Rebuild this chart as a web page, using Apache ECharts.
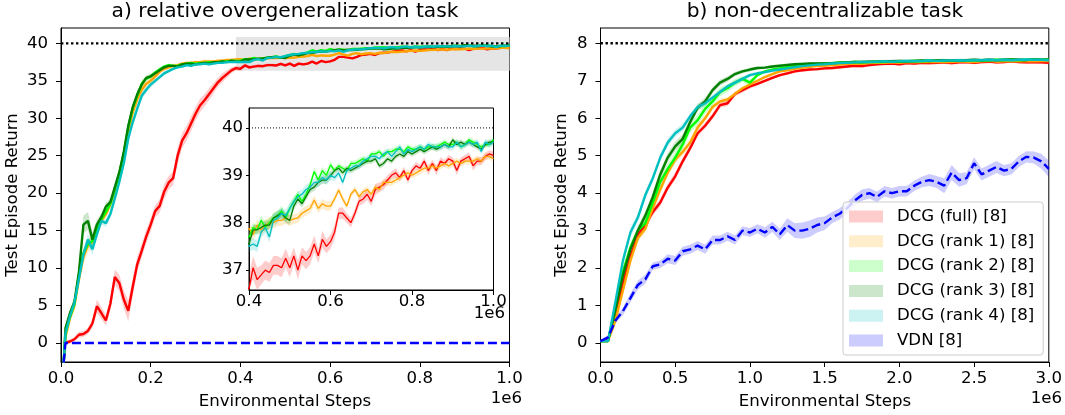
<!DOCTYPE html>
<html>
<head>
<meta charset="utf-8">
<script src="https://cdn.jsdelivr.net/npm/echarts@6.0.0/dist/echarts.min.js"></script>
<style>
  html, body { margin: 0; padding: 0; background: #fff; }
  #chart { width: 1065px; height: 415px; }
</style>
</head>
<body>
<div id="chart"></div>
<script>
// ---- data: a) relative overgeneralization task (x in 1e6 steps) ----
const stepsA = [0.006];
for (let i = 1; i <= 100; i++) stepsA.push(i / 100);

const fullA = [0.0,
  0.0, 0.2, 0.5, 1.1, 1.2, 1.6, 2.6, 4.9, 4.0, 3.0,
  5.2, 8.8, 8.0, 5.8, 4.3, 7.5, 10.5, 12.3, 14.2, 15.8,
  17.6, 18.3, 20.2, 21.4, 22.0, 25.0, 27.0, 28.0, 29.3, 30.6,
  31.7, 32.4, 33.2, 34.0, 34.8, 35.4, 35.9, 36.4, 36.7, 36.6,
  37.05, 36.8, 36.9, 37.0, 36.95, 37.1, 37.1, 37.05, 37.25, 37.05,
  37.3, 37.0, 37.3, 37.2, 37.3, 37.55, 37.3, 37.65, 37.5, 37.6,
  37.8, 38.2, 38.2, 38.1, 38.0, 38.2, 38.45, 38.5, 38.6, 38.45,
  38.7, 38.75, 38.8, 38.9, 39.0, 39.05, 38.95, 39.1, 38.9, 39.1,
  39.2, 39.15, 39.3, 39.1, 39.25, 39.1, 39.3, 39.25, 39.35, 39.3,
  39.1, 39.3, 39.35, 39.4, 39.2, 39.3, 39.3, 39.4, 39.45, 39.42];
const rank1A = [-2.6,
  0.8, 3.3, 5.0, 8.5, 11.5, 13.0, 13.5, 14.8, 16.3, 17.2,
  18.5, 20.3, 22.3, 25.0, 28.2, 30.8, 32.5, 33.8, 34.6, 35.0,
  35.6, 36.2, 36.6, 36.8, 37.0, 37.1, 37.3, 37.4, 37.4, 37.5,
  37.5, 37.6, 37.6, 37.6, 37.7, 37.7, 37.8, 37.8, 37.85, 37.88,
  37.75, 37.95, 37.85, 37.95, 38.0, 38.0, 38.05, 38.05, 38.1, 38.05,
  38.08, 38.1, 38.2, 38.25, 38.3, 38.48, 38.3, 38.4, 38.35, 38.35,
  38.5, 38.69, 38.5, 38.35, 38.6, 38.7, 38.55, 38.65, 38.7, 38.6,
  38.75, 38.7, 38.85, 38.85, 38.85, 38.9, 38.95, 39.0, 39.05, 39.0,
  39.05, 39.1, 39.15, 39.15, 39.2, 39.15, 39.2, 39.25, 39.2, 39.25,
  39.3, 39.25, 39.3, 39.3, 39.3, 39.35, 39.3, 39.4, 39.4, 39.35];
const rank2A = [-2.6,
  1.2, 3.5, 5.2, 9.0, 12.0, 13.2, 13.6, 15.2, 16.5, 17.5,
  18.6, 20.5, 22.6, 25.4, 28.8, 31.4, 33.0, 34.6, 35.3, 35.6,
  36.1, 36.5, 36.9, 37.1, 37.0, 37.0, 37.2, 37.3, 37.4, 37.3,
  37.4, 37.4, 37.5, 37.4, 37.5, 37.6, 37.6, 37.7, 37.65, 37.7,
  37.9, 37.85, 38.05, 37.9, 38.0, 38.1, 38.15, 38.25, 38.1, 38.3,
  38.45, 38.6, 38.45, 38.6, 38.8, 39.08, 38.9, 39.1, 39.0, 39.22,
  39.1, 39.2, 39.15, 39.1, 39.25, 39.25, 39.3, 39.35, 39.3, 39.45,
  39.45, 39.5, 39.4, 39.5, 39.5, 39.55, 39.55, 39.5, 39.6, 39.55,
  39.55, 39.6, 39.55, 39.6, 39.6, 39.6, 39.65, 39.7, 39.65, 39.65,
  39.7, 39.6, 39.65, 39.75, 39.7, 39.65, 39.6, 39.65, 39.65, 39.75];
const rank3A = [-2.6,
  2.0, 4.0, 5.5, 9.5, 15.8, 16.3, 13.8, 15.8, 16.8, 18.2,
  18.8, 20.8, 22.8, 25.5, 29.0, 31.5, 33.2, 34.5, 35.4, 35.6,
  36.0, 36.4, 36.8, 37.0, 37.0, 36.9, 37.2, 37.3, 37.3, 37.2,
  37.3, 37.4, 37.3, 37.5, 37.5, 37.6, 37.5, 37.7, 37.6, 37.55,
  37.85, 37.85, 37.9, 37.95, 37.95, 38.1, 38.15, 38.2, 38.1, 38.05,
  38.35, 38.5, 38.4, 38.55, 38.7, 38.75, 38.85, 38.9, 38.9, 39.0,
  39.1, 39.15, 39.05, 39.15, 39.1, 39.15, 39.2, 39.25, 39.3, 39.3,
  39.35, 39.2, 39.25, 39.35, 39.3, 39.4, 39.45, 39.4, 39.5, 39.45,
  39.5, 39.55, 39.5, 39.55, 39.6, 39.55, 39.6, 39.65, 39.6, 39.75,
  39.65, 39.7, 39.65, 39.7, 39.65, 39.6, 39.55, 39.65, 39.7, 39.7];
const rank4A = [-2.6,
  1.3, 3.6, 5.4, 8.6, 11.8, 13.8, 12.5, 14.5, 16.3, 16.0,
  17.2, 19.3, 21.5, 24.0, 27.3, 29.5, 31.3, 33.0, 33.8, 34.5,
  35.0, 35.5, 36.0, 36.3, 36.6, 36.8, 36.9, 37.1, 37.0, 37.2,
  37.2, 37.3, 37.2, 37.3, 37.4, 37.4, 37.5, 37.5, 37.55, 37.5,
  37.55, 37.5, 37.8, 37.9, 37.7, 38.05, 38.1, 38.2, 38.15, 38.3,
  38.45, 38.55, 38.6, 38.7, 38.75, 38.85, 38.85, 38.95, 38.9, 39.0,
  38.95, 39.05, 38.85, 39.1, 39.15, 39.2, 39.2, 39.3, 39.35, 39.4,
  39.4, 39.35, 39.45, 39.5, 39.4, 39.5, 39.6, 39.45, 39.55, 39.5,
  39.55, 39.6, 39.55, 39.65, 39.6, 39.6, 39.6, 39.65, 39.6, 39.6,
  39.7, 39.6, 39.65, 39.7, 39.65, 39.7, 39.5, 39.7, 39.65, 39.7];
const vdnStepsA = [0.006, 0.01, 1.0];
const vdnA = [-2.6, 0.0, 0.0];

// half-widths of the shaded bands
const fullSdA = [0.2,
  0.2, 0.3, 0.3, 0.4, 0.4, 0.4, 0.6, 0.9, 0.8, 0.7,
  0.9, 1.0, 1.1, 1.2, 1.4, 1.2, 1.0, 0.9, 0.9, 0.9,
  0.8, 0.9, 1.0, 0.9, 0.9, 1.1, 1.0, 1.0, 1.0, 0.9,
  0.9, 0.8, 0.8, 0.7, 0.6, 0.6, 0.5, 0.4, 0.3, 0.3,
  0.25, 0.25, 0.2, 0.2, 0.2, 0.2, 0.2, 0.2, 0.2, 0.2,
  0.18, 0.2, 0.18, 0.18, 0.18, 0.18, 0.15, 0.18, 0.15, 0.15,
  0.15, 0.12, 0.12, 0.1, 0.1, 0.1, 0.1, 0.1, 0.12, 0.1,
  0.12, 0.1, 0.1, 0.1, 0.08, 0.1, 0.08, 0.08, 0.08, 0.08,
  0.08, 0.08, 0.08, 0.1, 0.08, 0.1, 0.08, 0.08, 0.08, 0.08,
  0.1, 0.08, 0.08, 0.08, 0.1, 0.08, 0.08, 0.08, 0.08, 0.08];
const rank1SdA = [0.3,
  0.4, 0.5, 0.6, 0.8, 1.0, 0.9, 0.8, 0.6, 0.5, 0.5,
  0.5, 0.5, 0.5, 0.6, 0.6, 0.6, 0.5, 0.5, 0.5, 0.4,
  0.4, 0.3, 0.3, 0.3, 0.3, 0.2, 0.2, 0.2, 0.2, 0.2,
  0.2, 0.2, 0.2, 0.15, 0.15, 0.15, 0.15, 0.15, 0.15, 0.12,
  0.12, 0.12, 0.12, 0.12, 0.12, 0.12, 0.12, 0.12, 0.12, 0.12,
  0.1, 0.1, 0.1, 0.1, 0.1, 0.1, 0.1, 0.1, 0.1, 0.1,
  0.07, 0.07, 0.07, 0.07, 0.07, 0.07, 0.07, 0.07, 0.07, 0.07,
  0.07, 0.07, 0.07, 0.07, 0.07, 0.07, 0.07, 0.07, 0.07, 0.07,
  0.07, 0.07, 0.07, 0.07, 0.07, 0.07, 0.07, 0.07, 0.07, 0.07,
  0.07, 0.07, 0.07, 0.07, 0.07, 0.07, 0.07, 0.07, 0.07, 0.07];
const rank2SdA = [0.3,
  0.4, 0.5, 0.6, 0.7, 0.6, 0.6, 0.6, 0.5, 0.5, 0.5,
  0.5, 0.5, 0.6, 0.6, 0.6, 0.5, 0.4, 0.4, 0.3, 0.3,
  0.3, 0.3, 0.2, 0.2, 0.2, 0.15, 0.15, 0.15, 0.15, 0.15,
  0.15, 0.15, 0.15, 0.12, 0.12, 0.12, 0.12, 0.12, 0.12, 0.1,
  0.1, 0.1, 0.1, 0.1, 0.1, 0.1, 0.1, 0.1, 0.1, 0.1,
  0.08, 0.08, 0.08, 0.08, 0.08, 0.08, 0.08, 0.08, 0.08, 0.08,
  0.06, 0.06, 0.06, 0.06, 0.06, 0.06, 0.06, 0.06, 0.06, 0.06,
  0.06, 0.06, 0.06, 0.06, 0.06, 0.06, 0.06, 0.06, 0.06, 0.06,
  0.06, 0.06, 0.06, 0.06, 0.06, 0.06, 0.06, 0.06, 0.06, 0.06,
  0.06, 0.06, 0.06, 0.06, 0.06, 0.06, 0.06, 0.06, 0.06, 0.06];
const rank3SdA = [0.3,
  0.4, 0.5, 0.6, 0.9, 1.2, 1.2, 1.0, 0.7, 0.5, 0.5,
  0.5, 0.5, 0.5, 0.6, 0.6, 0.5, 0.4, 0.4, 0.3, 0.3,
  0.3, 0.2, 0.2, 0.2, 0.2, 0.15, 0.15, 0.15, 0.15, 0.15,
  0.15, 0.15, 0.15, 0.12, 0.12, 0.12, 0.12, 0.12, 0.12, 0.1,
  0.1, 0.1, 0.1, 0.1, 0.1, 0.1, 0.1, 0.1, 0.1, 0.1,
  0.08, 0.08, 0.08, 0.08, 0.08, 0.08, 0.08, 0.08, 0.08, 0.08,
  0.06, 0.06, 0.06, 0.06, 0.06, 0.06, 0.06, 0.06, 0.06, 0.06,
  0.06, 0.06, 0.06, 0.06, 0.06, 0.06, 0.06, 0.06, 0.06, 0.06,
  0.06, 0.06, 0.06, 0.06, 0.06, 0.06, 0.06, 0.06, 0.06, 0.06,
  0.06, 0.06, 0.06, 0.06, 0.06, 0.06, 0.06, 0.06, 0.06, 0.06];
const rank4SdA = [0.3,
  0.4, 0.5, 0.6, 0.7, 0.8, 0.8, 0.7, 0.6, 0.5, 0.5,
  0.5, 0.6, 0.6, 0.6, 0.7, 0.6, 0.5, 0.5, 0.4, 0.4,
  0.3, 0.3, 0.3, 0.2, 0.2, 0.15, 0.15, 0.15, 0.15, 0.15,
  0.15, 0.15, 0.15, 0.12, 0.12, 0.12, 0.12, 0.12, 0.12, 0.12,
  0.12, 0.12, 0.12, 0.12, 0.12, 0.12, 0.12, 0.12, 0.12, 0.12,
  0.1, 0.1, 0.1, 0.1, 0.1, 0.1, 0.1, 0.1, 0.1, 0.1,
  0.07, 0.07, 0.07, 0.07, 0.07, 0.07, 0.07, 0.07, 0.07, 0.07,
  0.07, 0.07, 0.07, 0.07, 0.07, 0.07, 0.07, 0.07, 0.07, 0.07,
  0.07, 0.07, 0.07, 0.07, 0.07, 0.07, 0.07, 0.07, 0.07, 0.07,
  0.07, 0.07, 0.07, 0.07, 0.07, 0.07, 0.07, 0.07, 0.07, 0.07];

// ---- data: b) non-decentralizable task ----
const stepsB = [];
for (let i = 0; i <= 60; i++) stepsB.push(i * 0.05);

const fullB = [0.05, 0.1, 0.75, 1.6, 2.3, 2.9, 3.15, 3.5, 3.75, 4.15,
  4.45, 4.85, 5.2, 5.6, 5.8, 6.05, 6.35, 6.4, 6.65, 6.75,
  6.85, 6.92, 7.0, 7.08, 7.15, 7.2, 7.25, 7.28, 7.3, 7.31,
  7.33, 7.34, 7.36, 7.38, 7.4, 7.39, 7.42, 7.44, 7.45, 7.46,
  7.44, 7.47, 7.46, 7.48, 7.47, 7.48, 7.49, 7.47, 7.49, 7.5,
  7.48, 7.5, 7.51, 7.49, 7.5, 7.52, 7.5, 7.49, 7.5, 7.49, 7.48];
const rank1B = [0.05, 0.05, 0.6, 1.4, 2.2, 2.8, 3.05, 3.6, 4.1, 4.55,
  4.9, 5.1, 5.35, 5.75, 6.0, 6.3, 6.45, 6.5, 6.65, 6.8,
  6.9, 7.0, 7.1, 7.18, 7.25, 7.28, 7.32, 7.35, 7.37, 7.4,
  7.4, 7.42, 7.43, 7.45, 7.46, 7.45, 7.47, 7.48, 7.48, 7.49,
  7.48, 7.5, 7.49, 7.5, 7.51, 7.5, 7.51, 7.5, 7.52, 7.51,
  7.5, 7.52, 7.53, 7.51, 7.52, 7.53, 7.52, 7.53, 7.52, 7.53, 7.53];
const rank2B = [0.05, 0.05, 0.9, 1.9, 2.55, 3.0, 3.2, 3.75, 4.3, 4.65,
  4.95, 5.3, 5.75, 5.95, 6.25, 6.45, 6.7, 6.8, 6.95, 7.05,
  6.95, 7.15, 7.25, 7.3, 7.33, 7.36, 7.4, 7.42, 7.43, 7.45,
  7.46, 7.47, 7.48, 7.49, 7.5, 7.49, 7.5, 7.51, 7.5, 7.52,
  7.51, 7.52, 7.53, 7.52, 7.53, 7.54, 7.53, 7.54, 7.53, 7.55,
  7.54, 7.55, 7.54, 7.56, 7.55, 7.56, 7.55, 7.56, 7.57, 7.56, 7.57];
const rank3B = [0.05, 0.05, 0.9, 1.8, 2.5, 3.0, 3.4, 3.9, 4.5, 4.95,
  5.25, 5.45, 5.9, 6.28, 6.45, 6.75, 6.95, 7.05, 7.18, 7.25,
  7.3, 7.34, 7.35, 7.38, 7.4, 7.42, 7.44, 7.45, 7.46, 7.46,
  7.46, 7.47, 7.48, 7.49, 7.5, 7.5, 7.51, 7.51, 7.52, 7.52,
  7.53, 7.52, 7.53, 7.54, 7.53, 7.54, 7.55, 7.54, 7.55, 7.55,
  7.56, 7.55, 7.56, 7.55, 7.56, 7.57, 7.56, 7.55, 7.57, 7.56, 7.56];
const rank4B = [0.05, 0.05, 1.1, 2.2, 2.95, 3.35, 3.95, 4.4, 4.95, 5.35,
  5.6, 5.75, 6.05, 6.3, 6.4, 6.55, 6.7, 6.85, 6.95, 7.05,
  7.15, 7.2, 7.23, 7.27, 7.3, 7.33, 7.36, 7.39, 7.41, 7.43,
  7.44, 7.46, 7.47, 7.48, 7.49, 7.5, 7.5, 7.51, 7.52, 7.51,
  7.52, 7.53, 7.52, 7.53, 7.54, 7.53, 7.54, 7.54, 7.55, 7.54,
  7.55, 7.55, 7.56, 7.55, 7.56, 7.55, 7.56, 7.57, 7.56, 7.56, 7.55];
const vdnB = [0.05, 0.15, 0.6, 0.85, 1.2, 1.55, 1.7, 2.05, 2.1, 2.25,
  2.2, 2.45, 2.5, 2.6, 2.5, 2.75, 2.75, 2.85, 2.75, 3.0,
  2.95, 3.05, 2.95, 3.1, 2.9, 3.15, 3.0, 3.0, 3.05, 3.15,
  3.2, 3.35, 3.45, 3.6, 3.8, 3.95, 4.0, 3.9, 4.05, 4.0,
  4.05, 4.05, 4.2, 4.3, 4.35, 4.3, 4.2, 4.55, 4.35, 4.4,
  4.8, 4.5, 4.6, 4.7, 4.6, 4.65, 4.85, 4.97, 4.95, 4.85, 4.65];

const fullSdB = [0.02, 0.03, 0.08, 0.1, 0.1, 0.1, 0.1, 0.1, 0.1, 0.1,
  0.1, 0.1, 0.08, 0.08, 0.08, 0.08, 0.07, 0.07, 0.06, 0.06,
  0.06, 0.04, 0.04, 0.04, 0.04, 0.04, 0.04, 0.04, 0.04, 0.04,
  0.04, 0.04, 0.04, 0.04, 0.04, 0.04, 0.04, 0.04, 0.04, 0.04,
  0.04, 0.04, 0.04, 0.04, 0.04, 0.04, 0.04, 0.04, 0.04, 0.04,
  0.04, 0.04, 0.04, 0.04, 0.04, 0.04, 0.04, 0.04, 0.04, 0.04, 0.04];
const rank1SdB = [0.02, 0.03, 0.1, 0.12, 0.12, 0.1, 0.1, 0.1, 0.1, 0.1,
  0.1, 0.1, 0.1, 0.08, 0.08, 0.07, 0.07, 0.06, 0.06, 0.05,
  0.05, 0.04, 0.04, 0.04, 0.04, 0.04, 0.04, 0.04, 0.04, 0.04,
  0.04, 0.04, 0.04, 0.04, 0.04, 0.04, 0.04, 0.04, 0.04, 0.04,
  0.04, 0.04, 0.04, 0.04, 0.04, 0.04, 0.04, 0.04, 0.04, 0.04,
  0.04, 0.04, 0.04, 0.04, 0.04, 0.04, 0.04, 0.04, 0.04, 0.04, 0.04];
const rank2SdB = [0.02, 0.03, 0.1, 0.12, 0.12, 0.1, 0.12, 0.14, 0.15, 0.15,
  0.15, 0.15, 0.14, 0.14, 0.13, 0.12, 0.12, 0.1, 0.1, 0.08,
  0.08, 0.04, 0.04, 0.04, 0.04, 0.04, 0.04, 0.04, 0.04, 0.04,
  0.04, 0.04, 0.04, 0.04, 0.04, 0.04, 0.04, 0.04, 0.04, 0.04,
  0.04, 0.04, 0.04, 0.04, 0.04, 0.04, 0.04, 0.04, 0.04, 0.04,
  0.04, 0.04, 0.04, 0.04, 0.04, 0.04, 0.04, 0.04, 0.04, 0.04, 0.04];
const rank3SdB = [0.02, 0.03, 0.1, 0.12, 0.12, 0.12, 0.12, 0.12, 0.12, 0.12,
  0.12, 0.12, 0.1, 0.1, 0.1, 0.08, 0.08, 0.07, 0.06, 0.05,
  0.05, 0.04, 0.04, 0.04, 0.04, 0.04, 0.04, 0.04, 0.04, 0.04,
  0.04, 0.04, 0.04, 0.04, 0.04, 0.04, 0.04, 0.04, 0.04, 0.04,
  0.04, 0.04, 0.04, 0.04, 0.04, 0.04, 0.04, 0.04, 0.04, 0.04,
  0.04, 0.04, 0.04, 0.04, 0.04, 0.04, 0.04, 0.04, 0.04, 0.04, 0.04];
const rank4SdB = [0.02, 0.03, 0.1, 0.12, 0.12, 0.12, 0.1, 0.1, 0.1, 0.1,
  0.1, 0.1, 0.08, 0.08, 0.08, 0.07, 0.07, 0.06, 0.06, 0.05,
  0.05, 0.04, 0.04, 0.04, 0.04, 0.04, 0.04, 0.04, 0.04, 0.04,
  0.04, 0.04, 0.04, 0.04, 0.04, 0.04, 0.04, 0.04, 0.04, 0.04,
  0.04, 0.04, 0.04, 0.04, 0.04, 0.04, 0.04, 0.04, 0.04, 0.04,
  0.04, 0.04, 0.04, 0.04, 0.04, 0.04, 0.04, 0.04, 0.04, 0.04, 0.04];
const vdnSdB = [0.03, 0.05, 0.08, 0.1, 0.12, 0.12, 0.12, 0.1, 0.1, 0.12,
  0.12, 0.12, 0.12, 0.12, 0.12, 0.12, 0.12, 0.12, 0.12, 0.12,
  0.12, 0.12, 0.14, 0.14, 0.15, 0.18, 0.2, 0.22, 0.22, 0.2,
  0.18, 0.15, 0.15, 0.15, 0.15, 0.15, 0.14, 0.14, 0.14, 0.14,
  0.14, 0.14, 0.14, 0.14, 0.16, 0.16, 0.2, 0.2, 0.18, 0.16,
  0.16, 0.16, 0.16, 0.16, 0.15, 0.15, 0.15, 0.15, 0.16, 0.2, 0.22];

const names = ['DCG (full) [8]', 'DCG (rank 1) [8]', 'DCG (rank 2) [8]',
  'DCG (rank 3) [8]', 'DCG (rank 4) [8]', 'VDN [8]'];
const colors = ['#ff0000', '#ffa500', '#00ff00', '#008000', '#00bfbf', '#0000ff'];
const lightColors = ['#ffcccc', '#ffedcc', '#ccffcc', '#cce6cc', '#ccf2f2', '#ccccff'];
const yTicksA = [0, 5, 10, 15, 20, 25, 30, 35, 40];
const yTicksB = [0, 1, 2, 3, 4, 5, 6, 7, 8];
const yTicksInset = [37, 38, 39, 40];

const fam = 'DejaVu Sans';
const fs = 16.6;
const yLim = [[-2.54, 42.05], [-0.507, 8.409], [36.58, 40.42]];

// ---- helpers ----
// shaded band (mean +- sd) as one polygon, placed through the axes' scales
function band(gi, xs, ys, sd, color) {
  const lo = yLim[gi][0], hi = yLim[gi][1];
  const clampY = v => Math.min(hi, Math.max(lo, v));
  return { type: 'custom', xAxisIndex: gi, yAxisIndex: gi, silent: true, z: 2, clip: true,
    data: [[xs[1], clampY(ys[1])]],
    renderItem: function (params, api) {
      const up = xs.map((x, i) => api.coord([x, clampY(ys[i] + sd[i])]));
      const dn = xs.map((x, i) => api.coord([x, clampY(ys[i] - sd[i])])).reverse();
      return { type: 'polygon', shape: { points: up.concat(dn) },
        style: { fill: color, opacity: 0.2 } };
    } };
}
function curve(gi, xs, ys, color, width, name, dashed) {
  const s = { type: 'line', xAxisIndex: gi, yAxisIndex: gi, symbol: 'none', silent: true, z: 3,
    data: xs.map((x, i) => [x, ys[i]]),
    itemStyle: { color: color },
    lineStyle: { color: color, width: width, type: dashed ? [9, 4] : 'solid' } };
  if (name) s.name = name;
  return s;
}
function hline(gi, x0, x1, y, width, dash) {
  return { type: 'line', xAxisIndex: gi, yAxisIndex: gi, symbol: 'none', silent: true, z: 3,
    data: [[x0, y], [x1, y]], lineStyle: { color: '#000', width: width, type: dash } };
}

const series = [];
// gray region showing where the inset zooms
series.push({ type: 'line', xAxisIndex: 0, yAxisIndex: 0, data: [], silent: true, z: 1,
  markArea: { silent: true, itemStyle: { color: '#e5e5e5' },
    data: [[{ coord: [0.39, 36.35] }, { coord: [1.0, 40.85] }]] } });

const setA = [[fullA, fullSdA], [rank1A, rank1SdA], [rank2A, rank2SdA], [rank3A, rank3SdA], [rank4A, rank4SdA]];
setA.forEach((d, k) => {
  series.push(band(0, stepsA, d[0], d[1], colors[k]));
  series.push(curve(0, stepsA, d[0], colors[k], 2.4));
});
series.push(curve(0, vdnStepsA, vdnA, colors[5], 2.4, null, true));
series.push(hline(0, 0, 1, 40, 2.4, [2.4, 2.6]));

const setB = [[fullB, fullSdB], [rank1B, rank1SdB], [rank2B, rank2SdB], [rank3B, rank3SdB], [rank4B, rank4SdB], [vdnB, vdnSdB]];
setB.forEach((d, k) => {
  series.push(band(1, stepsB, d[0], d[1], colors[k]));
  series.push(curve(1, stepsB, d[0], colors[k], 2.4, names[k], k === 5));
});
series.push(hline(1, 0, 3, 8, 2.4, [2.4, 2.6]));

// inset
setA.forEach((d, k) => {
  series.push(band(2, stepsA, d[0], d[1], colors[k]));
  series.push(curve(2, stepsA, d[0], colors[k], 1.3));
});
series.push(hline(2, 0.4, 1.0, 40, 1, [1, 2]));

function xAx(gi, min, max, interval, margin) {
  return { gridIndex: gi, type: 'value', min: min, max: max, interval: interval,
    axisLine: { show: true, onZero: false, lineStyle: { color: '#000', width: 1 } },
    axisTick: { show: true, length: 5, lineStyle: { color: '#000', width: 1 } },
    axisLabel: { fontSize: fs, fontFamily: fam, color: '#000', margin: margin,
      formatter: v => v.toFixed(1) },
    splitLine: { show: false } };
}
function yAx(gi, ticks, margin, tickLen) {
  return { gridIndex: gi, type: 'value', min: yLim[gi][0], max: yLim[gi][1],
    axisLine: { show: true, onZero: false, lineStyle: { color: '#000', width: 1 } },
    axisTick: { show: true, length: tickLen, customValues: ticks, lineStyle: { color: '#000', width: 1 } },
    axisLabel: { fontSize: fs, fontFamily: fam, color: '#000', margin: margin, customValues: ticks },
    splitLine: { show: false } };
}

function txt(x, y, text, size, align, rot) {
  return { type: 'text', x: x, y: y, rotation: rot || 0, z: 50,
    style: { text: text, fill: '#000', font: size + 'px "' + fam + '"',
      align: align, verticalAlign: 'middle' } };
}

const option = {
  animation: false,
  backgroundColor: '#fff',
  grid: [
    { left: 61, top: 28, width: 448.5, height: 334, show: true, borderColor: '#000', borderWidth: 1 },
    { left: 600.5, top: 28, width: 448.5, height: 334, show: true, borderColor: '#000', borderWidth: 1 },
    { left: 249, top: 108, width: 244.5, height: 182, show: true, backgroundColor: '#fff',
      borderColor: '#000', borderWidth: 1 }
  ],
  xAxis: [
    xAx(0, 0, 1, 0.2, 8),
    xAx(1, 0, 3, 0.5, 8),
    xAx(2, 0.4, 1.0, 0.2, 3)
  ],
  yAxis: [
    yAx(0, yTicksA, 13, 5),
    yAx(1, yTicksB, 13, 5),
    yAx(2, yTicksInset, 6, 3)
  ],
  legend: {
    orient: 'vertical', left: 843, top: 202, itemWidth: 34, itemHeight: 12, itemGap: 7.8,
    padding: [6, 9, 6, 6], backgroundColor: 'rgba(255,255,255,0.8)',
    borderColor: '#cccccc', borderWidth: 1, borderRadius: 3,
    icon: 'rect', selectedMode: false,
    textStyle: { fontSize: fs, fontFamily: fam, color: '#000', padding: [0, 0, 0, 9] },
    data: names.map((n, i) => ({ name: n,
      itemStyle: { color: lightColors[i], borderColor: lightColors[i], borderWidth: 0 } }))
  },
  graphic: [
    txt(285, 12, 'a) relative overgeneralization task', 20.2, 'center'),
    txt(825, 12, 'b) non-decentralizable task', 20.2, 'center'),
    txt(285, 402, 'Environmental Steps', fs, 'center'),
    txt(825, 402, 'Environmental Steps', fs, 'center'),
    txt(13, 195, 'Test Episode Return', fs, 'center', Math.PI / 2),
    txt(562, 195, 'Test Episode Return', fs, 'center', Math.PI / 2),
    txt(522, 399, '1e6', fs, 'right'),
    txt(1062, 399, '1e6', fs, 'right'),
    txt(505, 314, '1e6', fs, 'right')
  ],
  series: series
};

const chart = echarts.init(document.getElementById('chart'), null, { renderer: 'canvas' });
chart.setOption(option);
</script>
</body>
</html>
